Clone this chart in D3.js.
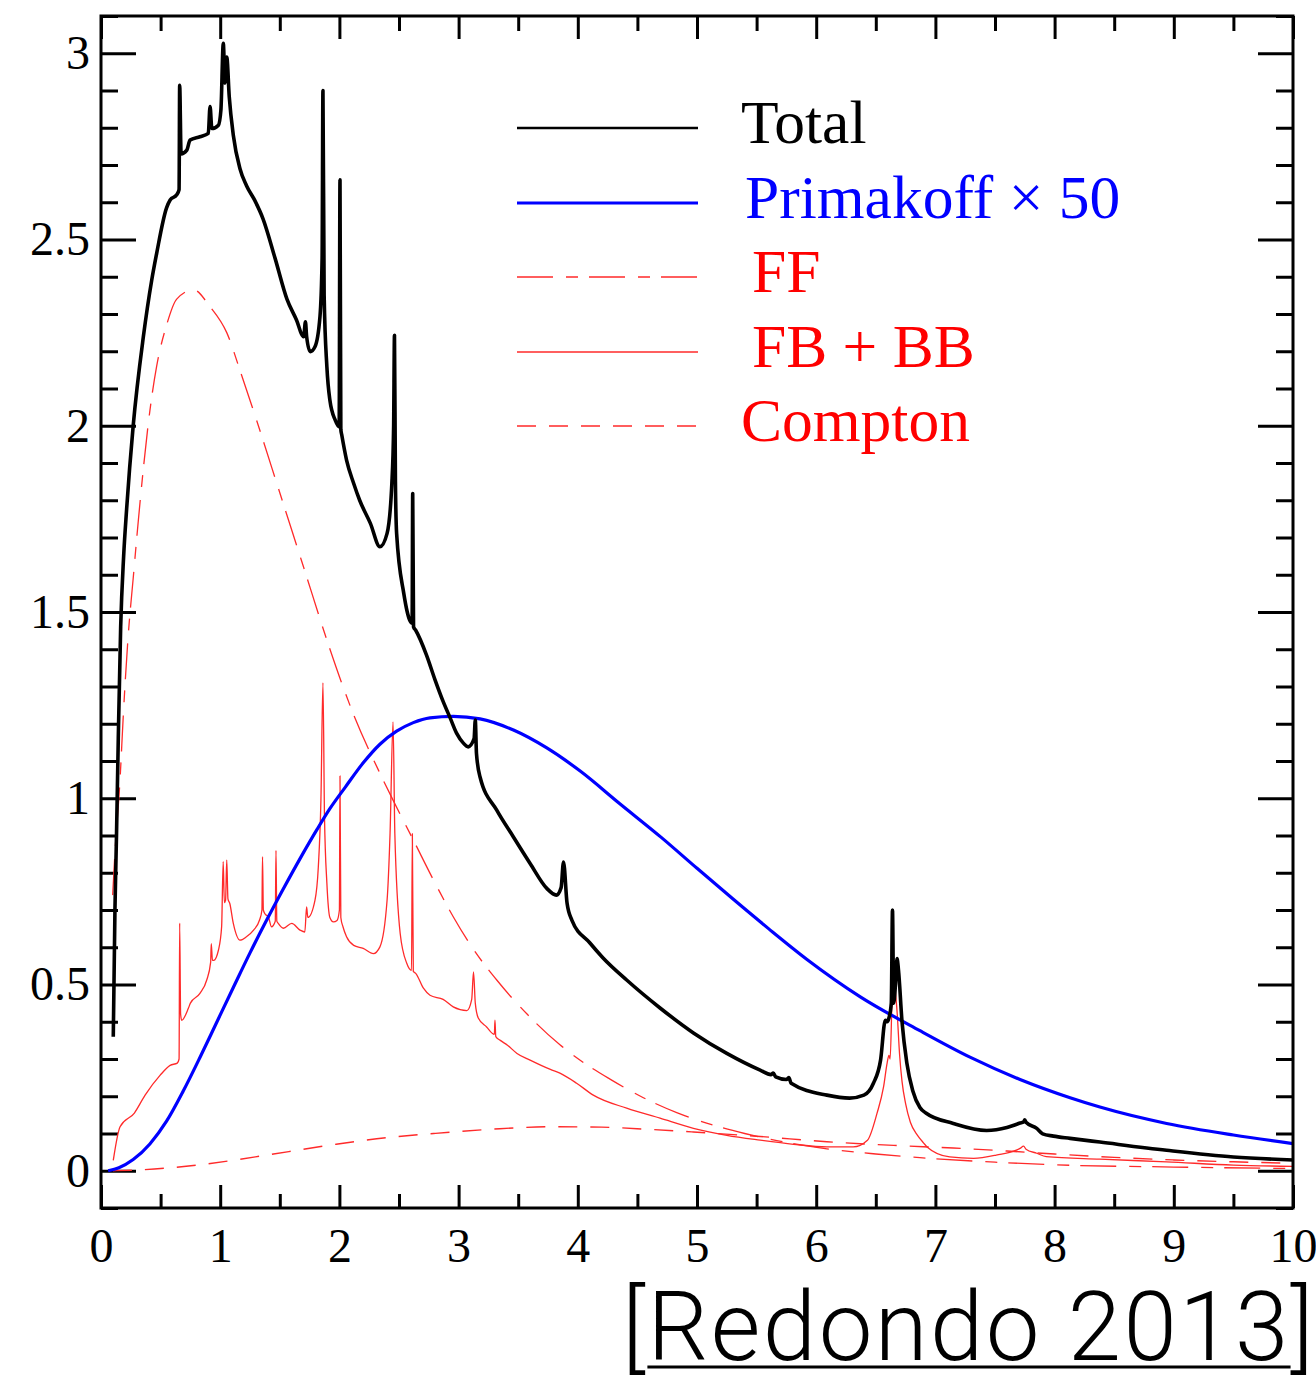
<!DOCTYPE html>
<html>
<head>
<meta charset="utf-8">
<script src="https://cdn.jsdelivr.net/npm/d3@7"></script>
<style>
  body { margin: 0; background: #fff; }
</style>
</head>
<body>
<svg width="1316" height="1376"></svg>
<script>
// series, [x, y]
const total = [
  [0.103,0.36],[0.117,0.70],[0.13,0.90],[0.145,1.16],[0.165,1.46],[0.19,1.65],[0.215,1.776],[0.27,2.0],
  [0.355,2.238],[0.425,2.39],[0.467,2.463],[0.55,2.585],[0.58,2.606],[0.635,2.62],[0.655,2.634],
  [0.66,2.914],[0.672,2.73],[0.72,2.74],[0.747,2.767],[0.83,2.776],[0.9,2.785],[0.915,2.857],
  [0.93,2.798],[0.985,2.807],[1.006,2.848],[1.026,3.027],[1.04,2.92],[1.055,2.99],[1.076,2.883],
  [1.11,2.78],[1.166,2.69],[1.22,2.645],[1.29,2.605],[1.36,2.555],[1.46,2.45],[1.56,2.34],[1.64,2.284],
  [1.70,2.239],[1.715,2.279],[1.725,2.24],[1.755,2.199],[1.795,2.212],[1.837,2.293],[1.855,2.45],
  [1.862,2.90],[1.872,2.35],[1.895,2.158],[1.92,2.069],[1.965,2.015],[1.998,1.997],[2.005,2.66],
  [2.012,1.99],[2.02,1.975],[2.06,1.908],[2.12,1.845],[2.17,1.80],[2.26,1.738],[2.34,1.675],
  [2.4,1.711],[2.44,1.845],[2.455,2.0],[2.462,2.243],[2.47,1.85],[2.48,1.711],[2.54,1.55],
  [2.59,1.478],[2.61,1.47],[2.615,1.818],[2.622,1.46],[2.64,1.451],[2.73,1.385],[2.8,1.32],
  [2.87,1.26],[2.93,1.215],[2.984,1.174],[3.04,1.148],[3.08,1.138],[3.13,1.16],[3.14,1.21],
  [3.15,1.12],[3.18,1.057],[3.32,0.968],[3.46,0.896],[3.6,0.825],[3.74,0.758],[3.82,0.74],
  [3.86,0.76],[3.88,0.829],[3.91,0.718],[3.95,0.673],[4.1,0.612],[4.21,0.572],[4.41,0.512],
  [4.69,0.437],[4.97,0.37],[5.25,0.315],[5.53,0.27],[5.62,0.258],[5.64,0.262],[5.66,0.252],
  [5.75,0.245],[5.77,0.25],[5.79,0.235],[6.09,0.203],[6.28,0.195],[6.4,0.203],[6.48,0.235],
  [6.54,0.297],[6.58,0.404],[6.595,0.40],[6.61,0.41],[6.63,0.45],[6.64,0.70],[6.65,0.45],
  [6.665,0.50],[6.678,0.57],[6.69,0.54],[6.72,0.40],[6.76,0.29],[6.81,0.215],[6.87,0.17],
  [6.92,0.155],[7.15,0.127],[7.43,0.108],[7.6,0.116],[7.71,0.128],[7.74,0.131],[7.75,0.137],
  [7.76,0.13],[7.85,0.114],[7.9,0.099],[7.99,0.093],[8.13,0.087],[8.38,0.077],[8.94,0.055],
  [9.5,0.037],[10.0,0.029]
];

const primakoff = [
  [0.06,0.0],[0.15,0.008],[0.27,0.03],[0.41,0.072],[0.55,0.133],[0.69,0.214],[0.83,0.304],
  [0.97,0.398],[1.11,0.492],[1.25,0.585],[1.39,0.673],[1.53,0.757],[1.67,0.838],[1.81,0.915],
  [1.92,0.972],[2.05,1.03],[2.2,1.095],[2.34,1.145],[2.48,1.18],[2.62,1.203],[2.76,1.216],
  [2.955,1.22],[3.18,1.213],[3.46,1.183],[3.74,1.135],[4.02,1.073],[4.35,0.986],[4.7,0.895],
  [5.0,0.812],[5.3,0.73],[5.6,0.65],[5.92,0.568],[6.37,0.467],[6.87,0.376],[7.29,0.305],
  [7.71,0.245],[8.13,0.196],[8.38,0.171],[8.94,0.127],[9.5,0.096],[10.0,0.073]
];

const ff = [
  [0.098,0.74],[0.117,0.853],[0.16,1.052],[0.187,1.222],[0.229,1.44],[0.27,1.59],[0.313,1.745],
  [0.355,1.884],[0.41,2.04],[0.467,2.16],[0.55,2.27],[0.635,2.34],[0.775,2.365],[0.914,2.32],
  [1.055,2.25],[1.17,2.145],[1.3,2.02],[1.5,1.82],[1.7,1.62],[1.9,1.42],[2.1,1.24],[2.34,1.067],
  [2.45,0.995],[2.62,0.888],[2.79,0.78],[2.955,0.682],[3.125,0.594],[3.32,0.512],[3.57,0.422],
  [3.85,0.338],[4.05,0.29],[4.27,0.246],[4.55,0.196],[4.83,0.156],[5.14,0.122],[5.4,0.10],
  [5.67,0.081],[6.09,0.059],[6.5,0.045],[6.87,0.035],[7.5,0.023],[8.0,0.016],[9.0,0.01],[10.0,0.006]
];

const fbbb = [
  [0.103,0.028],[0.16,0.118],[0.28,0.155],[0.37,0.203],[0.495,0.256],[0.58,0.283],[0.64,0.289],
  [0.655,0.30],[0.66,0.665],[0.668,0.42],[0.677,0.404],[0.733,0.436],[0.75,0.45],[0.83,0.476],
  [0.887,0.512],[0.92,0.56],[0.925,0.61],[0.935,0.565],[0.946,0.565],[0.985,0.592],[1.012,0.655],
  [1.025,0.83],[1.035,0.72],[1.045,0.726],[1.055,0.834],[1.065,0.73],[1.08,0.718],[1.11,0.664],
  [1.166,0.619],[1.22,0.628],[1.28,0.646],[1.33,0.673],[1.35,0.70],[1.355,0.843],[1.362,0.70],
  [1.375,0.69],[1.405,0.681],[1.43,0.655],[1.462,0.67],[1.468,0.86],[1.475,0.67],[1.487,0.664],
  [1.53,0.651],[1.6,0.664],[1.67,0.646],[1.71,0.641],[1.725,0.708],[1.735,0.68],[1.795,0.726],
  [1.823,0.815],[1.845,0.995],[1.862,1.31],[1.875,0.95],[1.895,0.772],[1.92,0.68],[1.95,0.668],
  [1.98,0.672],[2.0,0.70],[2.005,1.06],[2.012,0.68],[2.03,0.655],[2.06,0.628],[2.12,0.605],
  [2.2,0.597],[2.285,0.583],[2.34,0.601],[2.4,0.726],[2.425,0.906],[2.45,1.205],[2.465,0.906],
  [2.51,0.637],[2.565,0.557],[2.605,0.538],[2.612,0.905],[2.62,0.535],[2.64,0.53],[2.705,0.49],
  [2.76,0.471],[2.87,0.46],[2.955,0.44],[3.07,0.43],[3.11,0.46],[3.125,0.534],[3.14,0.45],
  [3.165,0.41],[3.235,0.386],[3.3,0.366],[3.305,0.404],[3.312,0.36],[3.35,0.35],[3.41,0.337],
  [3.49,0.315],[3.6,0.297],[3.77,0.272],[3.85,0.262],[3.99,0.235],[4.13,0.203],[4.41,0.168],
  [4.69,0.141],[4.97,0.114],[5.25,0.095],[5.53,0.082],[5.81,0.071],[6.09,0.064],[6.31,0.064],
  [6.43,0.082],[6.51,0.154],[6.565,0.225],[6.595,0.289],[6.61,0.31],[6.62,0.30],[6.635,0.45],
  [6.645,0.574],[6.66,0.50],[6.68,0.42],[6.70,0.31],[6.72,0.24],[6.75,0.18],[6.79,0.13],
  [6.85,0.095],[6.9,0.075],[6.93,0.064],[7.12,0.037],[7.32,0.033],[7.51,0.042],[7.71,0.06],
  [7.74,0.066],[7.76,0.058],[7.85,0.047],[7.93,0.038],[8.38,0.031],[8.94,0.024],[9.5,0.015],
  [10.0,0.012]
];

const compton = [
  [0.1,0.0],[0.3,0.002],[0.83,0.016],[1.11,0.028],[1.39,0.042],[1.95,0.07],[2.4,0.089],[2.79,0.10],
  [3.3,0.112],[3.77,0.118],[4.2,0.117],[4.6,0.111],[4.97,0.104],[5.53,0.092],[6.09,0.078],
  [6.65,0.068],[7.15,0.061],[7.6,0.053],[8.0,0.045],[8.5,0.036],[9.0,0.029],[9.5,0.024],[10.0,0.02]
];

const xMajor = [0,1,2,3,4,5,6,7,8,9,10];
const xMinor = [0.5,1.5,2.5,3.5,4.5,5.5,6.5,7.5,8.5,9.5];
const yMajor = [0,0.5,1,1.5,2,2.5,3];
const yLabels = ["0","0.5","1","1.5","2","2.5","3"];
const yMinor = [-0.1,0.1,0.2,0.3,0.4,0.6,0.7,0.8,0.9,1.1,1.2,1.3,1.4,1.6,1.7,1.8,1.9,
  2.1,2.2,2.3,2.4,2.6,2.7,2.8,2.9,3.1];

const legendLabels = ["Total","Primakoff \u00d7 50","FF","FB + BB","Compton"];

const svg = d3.select("svg");
const pLeft = 101, pRight = 1293, pTop = 16, pBottom = 1208;

const x = d3.scaleLinear().domain([0, 10]).range([pLeft, pRight]);
const y = d3.scaleLinear().domain([-0.1, 3.1]).range([pBottom, pTop]);

const serif = "'Liberation Serif', 'Times New Roman', Times, serif";

svg.append("defs").append("clipPath").attr("id", "plot")
  .append("rect").attr("x", pLeft).attr("y", pTop)
  .attr("width", pRight - pLeft).attr("height", pBottom - pTop);

function styleAxis(g) {
  g.select(".domain").remove();
  g.selectAll("line").attr("stroke", "#000").attr("stroke-width", 3);
  g.selectAll("text").attr("font-family", serif).attr("font-size", 48).attr("fill", "#000");
}

// bottom
svg.append("g").attr("transform", `translate(0,${pBottom})`)
  .call(d3.axisBottom(x).tickValues(xMajor).tickSize(-23).tickPadding(20).tickFormat(d3.format("d")))
  .call(styleAxis);
svg.append("g").attr("transform", `translate(0,${pBottom})`)
  .call(d3.axisBottom(x).tickValues(xMinor).tickSize(-14).tickFormat(""))
  .call(styleAxis);
// top
svg.append("g").attr("transform", `translate(0,${pTop})`)
  .call(d3.axisTop(x).tickValues(xMajor).tickSize(-23).tickFormat(""))
  .call(styleAxis);
svg.append("g").attr("transform", `translate(0,${pTop})`)
  .call(d3.axisTop(x).tickValues(xMinor).tickSize(-15).tickFormat(""))
  .call(styleAxis);
// left
svg.append("g").attr("transform", `translate(${pLeft},0)`)
  .call(d3.axisLeft(y).tickValues(yMajor).tickSize(-35).tickPadding(11).tickFormat((d, i) => yLabels[i]))
  .call(styleAxis);
svg.append("g").attr("transform", `translate(${pLeft},0)`)
  .call(d3.axisLeft(y).tickValues(yMinor).tickSize(-17).tickFormat(""))
  .call(styleAxis);
// right
svg.append("g").attr("transform", `translate(${pRight},0)`)
  .call(d3.axisRight(y).tickValues(yMajor).tickSize(-35).tickFormat(""))
  .call(styleAxis);
svg.append("g").attr("transform", `translate(${pRight},0)`)
  .call(d3.axisRight(y).tickValues(yMinor).tickSize(-17).tickFormat(""))
  .call(styleAxis);

const smooth = d3.line().x(d => x(d[0])).y(d => y(d[1])).curve(d3.curveMonotoneX);

const curves = svg.append("g").attr("clip-path", "url(#plot)").attr("fill", "none");

curves.append("path").datum(compton).attr("d", smooth)
  .attr("stroke", "#ff2a2a").attr("stroke-width", 1.4).attr("stroke-dasharray", "19,13");
curves.append("path").datum(ff).attr("d", smooth)
  .attr("stroke", "#ff2a2a").attr("stroke-width", 1.3).attr("stroke-dasharray", "36,13,12,11");
curves.append("path").datum(fbbb).attr("d", smooth)
  .attr("stroke", "#ff2a2a").attr("stroke-width", 1.3).attr("stroke-linejoin", "round");
curves.append("path").datum(primakoff).attr("d", smooth)
  .attr("stroke", "#0000ff").attr("stroke-width", 3.2);
curves.append("path").datum(total).attr("d", smooth)
  .attr("stroke", "#000").attr("stroke-width", 3.6).attr("stroke-linejoin", "round");

// frame
svg.append("rect").attr("x", pLeft).attr("y", pTop)
  .attr("width", pRight - pLeft).attr("height", pBottom - pTop)
  .attr("fill", "none").attr("stroke", "#000").attr("stroke-width", 3);

// legend
const legendStyle = [
  { color: "#000", text: "#000", width: 2.4, dash: null, y: 128, tx: 741 },
  { color: "#0000ff", text: "#0000ff", width: 3, dash: null, y: 203, tx: 745 },
  { color: "#ff2a2a", text: "#ff0000", width: 1.4, dash: "36,13,12,11", y: 277, tx: 752 },
  { color: "#ff2a2a", text: "#ff0000", width: 1.4, dash: null, y: 352, tx: 752 },
  { color: "#ff2a2a", text: "#ff0000", width: 1.6, dash: "19,13", y: 426, tx: 741 }
];
const leg = svg.append("g");
legendLabels.forEach((label, i) => {
  const s = legendStyle[i];
  leg.append("line").attr("x1", 517).attr("x2", 698).attr("y1", s.y).attr("y2", s.y)
    .attr("stroke", s.color).attr("stroke-width", s.width)
    .attr("stroke-dasharray", s.dash);
  leg.append("text").attr("x", s.tx).attr("y", s.y + 15)
    .attr("font-family", serif).attr("font-size", 61.5).attr("fill", s.text)
    .text(label);
});

// citation, stretched to the reference width
const cite = svg.append("text")
  .attr("x", 1316).attr("y", 1360).attr("text-anchor", "end")
  .attr("font-family", "Roboto, Helvetica, Arial, sans-serif").attr("font-weight", 300)
  .attr("font-size", 96).attr("fill", "#000")
  .text("[Redondo 2013]");
const n = cite.node();
const w = n.getComputedTextLength();
cite.attr("letter-spacing", ((694 - w) / 14).toFixed(2));
const u0 = n.getStartPositionOfChar(1).x, u1 = n.getEndPositionOfChar(12).x;
svg.append("line").attr("x1", u0).attr("x2", u1).attr("y1", 1367).attr("y2", 1367)
  .attr("stroke", "#000").attr("stroke-width", 3);
</script>
</body>
</html>
